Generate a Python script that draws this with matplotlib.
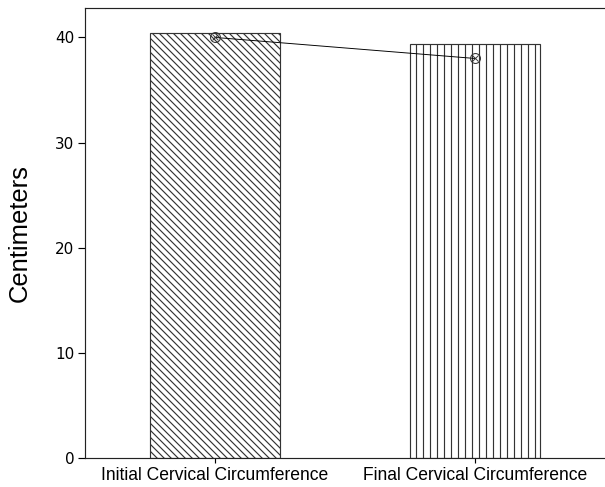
import matplotlib
matplotlib.use("Agg")
import matplotlib.pyplot as plt

# 데이터
categories = ["Initial Cervical Circumference", "Final Cervical Circumference"]
bar_heights = [40.4, 39.4]
point_values = [40.0, 38.0]
hatches = ["\\\\\\\\", "||"]
y_ticks = [0, 10, 20, 30, 40]

DPI = 84
plt.rcParams['hatch.linewidth'] = 1.0

fig = plt.figure(figsize=(605 / DPI, 487 / DPI), dpi=DPI)
ax = fig.add_axes([85 / 605, 29 / 487, 520 / 605, 450 / 487])

x = list(range(len(categories)))

# 막대 (해칭)
for xi, h, hatch in zip(x, bar_heights, hatches):
    ax.bar(xi, h, width=0.5, color="white", edgecolor="#333333",
           hatch=hatch, linewidth=1.0, zorder=2)

# 연결선과 마커
ax.plot(x, point_values, color="black", linewidth=0.8, zorder=3)
ax.plot(x, point_values, linestyle="none", marker="o", markersize=8.5,
        markerfacecolor="none", markeredgecolor="#333333", markeredgewidth=0.9, zorder=4)
ax.plot(x, point_values, linestyle="none", marker="x", markersize=5,
        markeredgecolor="#333333", markeredgewidth=0.8, zorder=4)

ax.set_xlim(-0.5, 1.5)
ax.set_ylim(0, 42.8)
ax.set_yticks(y_ticks)
ax.set_yticklabels([str(t) for t in y_ticks], fontsize=13, family="DejaVu Sans")
ax.set_xticks(x)
ax.set_xticklabels(categories, fontsize=15, family="Liberation Sans")

ax.set_ylabel("Centimeters", fontsize=22, family="Liberation Sans", labelpad=20)

ax.spines["right"].set_visible(False)
for s in ["left", "top", "bottom"]:
    ax.spines[s].set_linewidth(1.0)
    ax.spines[s].set_color("#222222")
ax.tick_params(axis="y", length=6, width=1.0, pad=3)
ax.tick_params(axis="x", length=4, width=1.0, pad=4)

fig.savefig("out.png", dpi=DPI)
